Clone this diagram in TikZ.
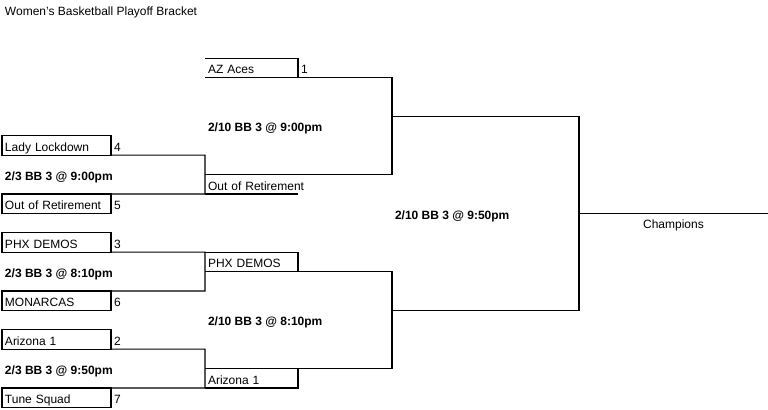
\documentclass[tikz,border=0pt]{standalone}
\usepackage{fontspec}
\setmainfont{Liberation Sans}
\usetikzlibrary{positioning}

\tikzset{bracket/.style = {x=0.75pt, y=-0.75pt, line width=0.8pt,
                           every node/.style = {font=\fontsize{9}{10.8}\selectfont,
                                                text height=9.7pt, text depth=1pt,
                                                inner xsep=2.25pt, inner ysep=0pt, outer sep=0pt},
                          },
         cell/.style = {anchor=north west, minimum height=14.55pt, text width=#1, align=left},
         cell/.default=77.25pt,
         team/.style = {cell, draw},
         game/.style = {anchor=west, font=\fontsize{9}{10.8}\selectfont\bfseries}
        }

\begin{document}
\begin{tikzpicture}[bracket]
  \useasboundingbox (0,0) rectangle (768,410);
  \node[anchor=west] (title) at (2,9.7) {Women's Basketball Playoff Bracket};

  \node[team] (t4) at (2,135.8) {Lady Lockdown};
  \node[team] (t5) at (2,194)   {Out of Retirement};
  \node[team] (t3) at (2,232.8) {PHX DEMOS};
  \node[team] (t6) at (2,291)   {MONARCAS};
  \node[team] (t2) at (2,329.8) {Arizona 1};
  \node[team] (t7) at (2,388)   {Tune Squad};
  \foreach \s in {2,...,7} \node[right=0pt of t\s] (s\s) {\s};

  \node[game] (g1) at (2,174.6) {2/3 BB 3 @ 9:00pm};
  \node[game] (g2) at (2,271.6) {2/3 BB 3 @ 8:10pm};
  \node[game] (g3) at (2,368.6) {2/3 BB 3 @ 9:50pm};

  \node[cell=65.25pt] (w1) at (205,58.2)  {AZ Aces};
  \node[cell=65.25pt] (w2) at (205,174.6) {\makebox[0pt][l]{Out of Retirement}};
  \node[cell=65.25pt] (w3) at (205,252.2) {PHX DEMOS};
  \node[cell=65.25pt] (w4) at (205,368.6) {Arizona 1};
  \node[right=0pt of w1] (s1) {1};

  \node[game] (g4) at (205,126.1) {2/10 BB 3 @ 9:00pm};
  \node[game] (g5) at (205,320.1) {2/10 BB 3 @ 8:10pm};
  \node[game] (g6) at (392,213.4) {2/10 BB 3 @ 9:50pm};

  \coordinate (j1) at (392,116.4);
  \coordinate (j2) at (392,310.4);
  \node[cell=137.25pt, align=center] (champ) at (579,213.4) {Champions};

  \draw (t4.south east) -| (w2.south west) -- (t5.north east);
  \draw (t6.north east) -| (w3.north west) -- (t3.south east);
  \draw (t2.south east) -| (w4.south west) -- (t7.north east);
  \draw (w2.south west) -- (w2.south east);
  \draw (w1.north west) -- (w1.north east) -- (w1.south east);
  \draw (w3.north west) -- (w3.north east) -- (w3.south east);
  \draw (w4.north east) -- (w4.south east) -- (w4.south west);
  \draw (w1.south west) -| (j1) |- (w2.north west);
  \draw (w3.south west) -| (j2) |- (w4.north west);
  \draw (j1) -| (champ.north west) |- (j2);
  \draw (champ.north west) -- (champ.north east);
\end{tikzpicture}
\end{document}
